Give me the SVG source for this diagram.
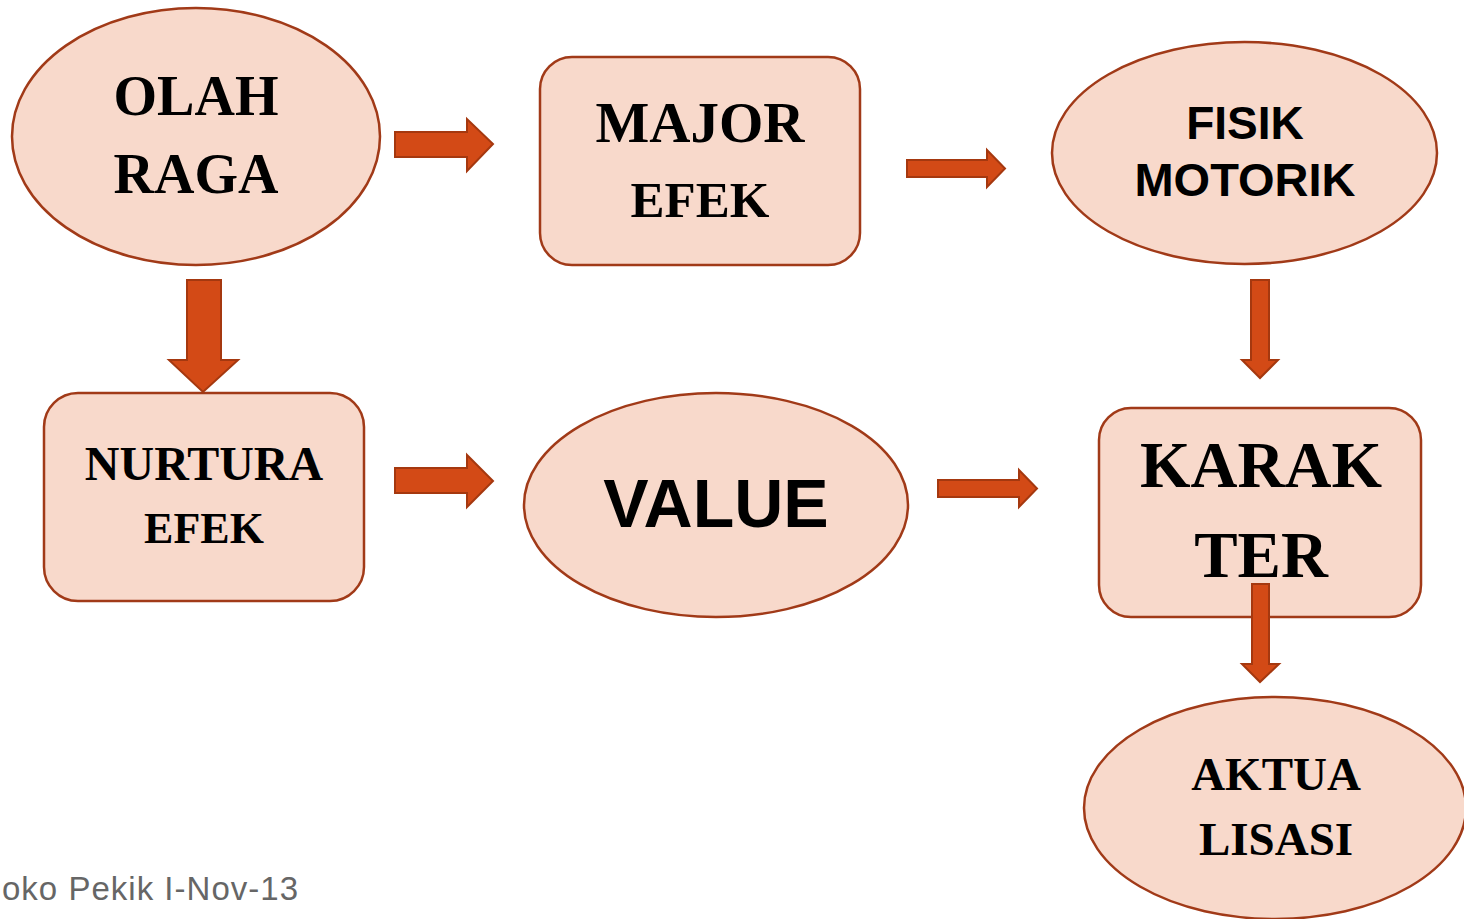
<svg xmlns="http://www.w3.org/2000/svg" width="1464" height="919" viewBox="0 0 1464 919">
  <style>
    .shape { fill: #F8D9CB; stroke: #A13A18; stroke-width: 2.5; }
    .serif { font-family: "Liberation Serif", "Times New Roman", serif; font-weight: bold; fill: #000; text-anchor: middle; }
    .sans { font-family: "Liberation Sans", Arial, sans-serif; font-weight: bold; fill: #000; text-anchor: middle; }
    .arrow { fill: #D34A16; stroke: #A5380F; stroke-width: 2; stroke-linejoin: miter; }
    .footer { font-family: "Liberation Sans", Arial, sans-serif; fill: #666666; }
  </style>
  <rect width="1464" height="919" fill="#FFFFFF"/>

  <g id="olah-raga">
    <ellipse class="shape" cx="196" cy="136.5" rx="184" ry="128.5"/>
    <text class="serif" x="196" y="115" font-size="56">OLAH</text>
    <text class="serif" x="196" y="193" font-size="56">RAGA</text>
  </g>

  <g id="major-efek">
    <rect class="shape" x="540" y="57" width="320" height="208" rx="32" ry="32"/>
    <text class="serif" x="700" y="142" font-size="57">MAJOR</text>
    <text class="serif" x="700" y="217" font-size="51">EFEK</text>
  </g>

  <g id="fisik-motorik">
    <ellipse class="shape" cx="1244.5" cy="153" rx="192.5" ry="111"/>
    <text class="sans" x="1245" y="139" font-size="46">FISIK</text>
    <text class="sans" x="1245" y="196" font-size="47">MOTORIK</text>
  </g>

  <g id="nurtura-efek">
    <rect class="shape" x="44" y="393" width="320" height="208" rx="34" ry="34"/>
    <text class="serif" x="204" y="480" font-size="48">NURTURA</text>
    <text class="serif" x="204" y="543" font-size="44">EFEK</text>
  </g>

  <g id="value">
    <ellipse class="shape" cx="716" cy="505" rx="192" ry="112"/>
    <text class="sans" x="716" y="527" font-size="68">VALUE</text>
  </g>

  <g id="karakter">
    <rect class="shape" x="1099" y="408" width="322" height="209" rx="32" ry="32"/>
    <text class="serif" x="1261" y="487" font-size="65">KARAK</text>
    <text class="serif" x="1261" y="577" font-size="65">TER</text>
  </g>

  <g id="aktualisasi">
    <ellipse class="shape" cx="1275" cy="808" rx="191" ry="111"/>
    <text class="serif" x="1276" y="790" font-size="47">AKTUA</text>
    <text class="serif" x="1276" y="855" font-size="47">LISASI</text>
  </g>

  <g id="connectors">
    <!-- olah raga -> major efek -->
    <polygon class="arrow" points="395,132 467,132 467,119 493,144 467,171 467,157 395,157"/>
    <!-- major efek -> fisik motorik -->
    <polygon class="arrow" points="907,160 987,160 987,150 1005,168.5 987,187 987,177 907,177"/>
    <!-- olah raga -> nurtura efek -->
    <polygon class="arrow" points="187,280 221,280 221,360 238,360 203,392 169,360 187,360"/>
    <!-- fisik motorik -> karakter -->
    <polygon class="arrow" points="1251,280 1269,280 1269,360 1278,360 1260,378 1242,360 1251,360"/>
    <!-- nurtura efek -> value -->
    <polygon class="arrow" points="395,468 467,468 467,455 493,481 467,507 467,493 395,493"/>
    <!-- value -> karakter -->
    <polygon class="arrow" points="938,480 1019,480 1019,470 1037,488.5 1019,507 1019,497 938,497"/>
    <!-- karakter -> aktualisasi -->
    <polygon class="arrow" points="1252,584 1269,584 1269,664 1279,664 1260,682 1242,664 1252,664"/>
  </g>

  <text class="footer" x="2" y="900" font-size="33" textLength="296" lengthAdjust="spacing">oko Pekik I-Nov-13</text>
</svg>
